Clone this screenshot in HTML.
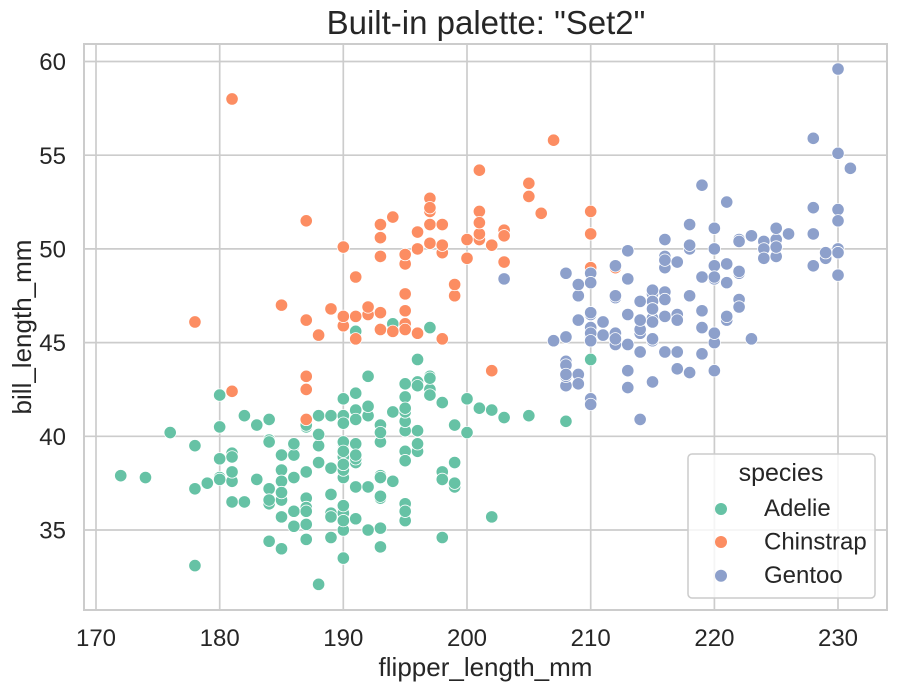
<!DOCTYPE html>
<html><head><meta charset="utf-8"><style>
html,body{margin:0;padding:0;background:#fff;}
svg{display:block;}
text{font-family:"Liberation Sans",Arial,sans-serif;fill:#262626;}
</style></head><body>
<svg width="897" height="691" viewBox="0 0 897 691" xmlns="http://www.w3.org/2000/svg">
<defs>
<g id="a"><ellipse rx="0.5337" ry="0.3522" fill="#fff"/><ellipse rx="0.4690" ry="0.3095" fill="#66c2a5"/></g>
<g id="c"><ellipse rx="0.5337" ry="0.3522" fill="#fff"/><ellipse rx="0.4690" ry="0.3095" fill="#fc8d62"/></g>
<g id="g"><ellipse rx="0.5337" ry="0.3522" fill="#fff"/><ellipse rx="0.4690" ry="0.3095" fill="#8da0cb"/></g>
</defs>
<rect x="0" y="0" width="897" height="691" fill="#fff"/>
<g stroke="#cccccc" stroke-width="1.7">
<line x1="96" y1="44" x2="96" y2="610"/>
<line x1="219.7" y1="44" x2="219.7" y2="610"/>
<line x1="343.3" y1="44" x2="343.3" y2="610"/>
<line x1="467" y1="44" x2="467" y2="610"/>
<line x1="590.7" y1="44" x2="590.7" y2="610"/>
<line x1="714.4" y1="44" x2="714.4" y2="610"/>
<line x1="838" y1="44" x2="838" y2="610"/>
<line x1="84" y1="530" x2="887" y2="530"/>
<line x1="84" y1="436.3" x2="887" y2="436.3"/>
<line x1="84" y1="342.6" x2="887" y2="342.6"/>
<line x1="84" y1="248.9" x2="887" y2="248.9"/>
<line x1="84" y1="155.2" x2="887" y2="155.2"/>
<line x1="84" y1="61.5" x2="887" y2="61.5"/>
</g>
<g transform="matrix(12.367 0 0 -18.74 -2006.39 1185.9)">
<use href="#a" x="181" y="39.1"/><use href="#a" x="186" y="39.5"/><use href="#a" x="195" y="40.3"/><use href="#a" x="193" y="36.7"/><use href="#a" x="190" y="39.3"/><use href="#a" x="181" y="38.9"/><use href="#a" x="195" y="39.2"/><use href="#a" x="193" y="34.1"/><use href="#a" x="190" y="42"/><use href="#a" x="186" y="37.8"/>
<use href="#a" x="180" y="37.8"/><use href="#a" x="182" y="41.1"/><use href="#a" x="191" y="38.6"/><use href="#a" x="198" y="34.6"/><use href="#a" x="185" y="36.6"/><use href="#a" x="195" y="38.7"/><use href="#a" x="197" y="42.5"/><use href="#a" x="184" y="34.4"/><use href="#a" x="194" y="46"/><use href="#a" x="174" y="37.8"/>
<use href="#a" x="180" y="37.7"/><use href="#a" x="189" y="35.9"/><use href="#a" x="185" y="38.2"/><use href="#a" x="180" y="38.8"/><use href="#a" x="187" y="35.3"/><use href="#a" x="183" y="40.6"/><use href="#a" x="187" y="40.5"/><use href="#a" x="172" y="37.9"/><use href="#a" x="180" y="40.5"/><use href="#a" x="178" y="39.5"/>
<use href="#a" x="178" y="37.2"/><use href="#a" x="188" y="39.5"/><use href="#a" x="184" y="40.9"/><use href="#a" x="195" y="36.4"/><use href="#a" x="196" y="39.2"/><use href="#a" x="190" y="38.8"/><use href="#a" x="180" y="42.2"/><use href="#a" x="181" y="37.6"/><use href="#a" x="184" y="39.8"/><use href="#a" x="182" y="36.5"/>
<use href="#a" x="195" y="40.8"/><use href="#a" x="186" y="36"/><use href="#a" x="196" y="44.1"/><use href="#a" x="185" y="37"/><use href="#a" x="190" y="39.6"/><use href="#a" x="182" y="41.1"/><use href="#a" x="179" y="37.5"/><use href="#a" x="190" y="36"/><use href="#a" x="191" y="42.3"/><use href="#a" x="186" y="39.6"/>
<use href="#a" x="188" y="40.1"/><use href="#a" x="190" y="35"/><use href="#a" x="200" y="42"/><use href="#a" x="187" y="34.5"/><use href="#a" x="191" y="41.4"/><use href="#a" x="186" y="39"/><use href="#a" x="193" y="40.6"/><use href="#a" x="181" y="36.5"/><use href="#a" x="194" y="37.6"/><use href="#a" x="185" y="35.7"/>
<use href="#a" x="195" y="41.3"/><use href="#a" x="185" y="37.6"/><use href="#a" x="192" y="41.1"/><use href="#a" x="184" y="36.4"/><use href="#a" x="192" y="41.6"/><use href="#a" x="195" y="35.5"/><use href="#a" x="188" y="41.1"/><use href="#a" x="190" y="35.9"/><use href="#a" x="198" y="41.8"/><use href="#a" x="190" y="33.5"/>
<use href="#a" x="190" y="39.7"/><use href="#a" x="196" y="39.6"/><use href="#a" x="197" y="45.8"/><use href="#a" x="190" y="35.5"/><use href="#a" x="195" y="42.8"/><use href="#a" x="191" y="40.9"/><use href="#a" x="184" y="37.2"/><use href="#a" x="187" y="36.2"/><use href="#a" x="195" y="42.1"/><use href="#a" x="189" y="34.6"/>
<use href="#a" x="196" y="42.9"/><use href="#a" x="187" y="36.7"/><use href="#a" x="193" y="35.1"/><use href="#a" x="191" y="37.3"/><use href="#a" x="194" y="41.3"/><use href="#a" x="190" y="36.3"/><use href="#a" x="189" y="36.9"/><use href="#a" x="189" y="38.3"/><use href="#a" x="190" y="38.9"/><use href="#a" x="202" y="35.7"/>
<use href="#a" x="205" y="41.1"/><use href="#a" x="185" y="34"/><use href="#a" x="186" y="39.6"/><use href="#a" x="187" y="36.2"/><use href="#a" x="208" y="40.8"/><use href="#a" x="190" y="38.1"/><use href="#a" x="196" y="40.3"/><use href="#a" x="178" y="33.1"/><use href="#a" x="192" y="43.2"/><use href="#a" x="192" y="35"/>
<use href="#a" x="203" y="41"/><use href="#a" x="183" y="37.7"/><use href="#a" x="190" y="37.8"/><use href="#a" x="193" y="37.9"/><use href="#a" x="184" y="39.7"/><use href="#a" x="199" y="38.6"/><use href="#a" x="190" y="38.2"/><use href="#a" x="181" y="38.1"/><use href="#a" x="197" y="43.2"/><use href="#a" x="198" y="38.1"/>
<use href="#a" x="191" y="45.6"/><use href="#a" x="193" y="39.7"/><use href="#a" x="197" y="42.2"/><use href="#a" x="191" y="39.6"/><use href="#a" x="196" y="42.7"/><use href="#a" x="188" y="38.6"/><use href="#a" x="199" y="37.3"/><use href="#a" x="189" y="35.7"/><use href="#a" x="189" y="41.1"/><use href="#a" x="187" y="36.2"/>
<use href="#a" x="198" y="37.7"/><use href="#a" x="176" y="40.2"/><use href="#a" x="202" y="41.4"/><use href="#a" x="186" y="35.2"/><use href="#a" x="199" y="40.6"/><use href="#a" x="191" y="38.8"/><use href="#a" x="195" y="41.5"/><use href="#a" x="191" y="39"/><use href="#a" x="210" y="44.1"/><use href="#a" x="190" y="38.5"/>
<use href="#a" x="197" y="43.1"/><use href="#a" x="193" y="36.8"/><use href="#a" x="199" y="37.5"/><use href="#a" x="187" y="38.1"/><use href="#a" x="190" y="41.1"/><use href="#a" x="191" y="35.6"/><use href="#a" x="200" y="40.2"/><use href="#a" x="185" y="37"/><use href="#a" x="193" y="39.7"/><use href="#a" x="193" y="40.2"/>
<use href="#a" x="187" y="40.6"/><use href="#a" x="188" y="32.1"/><use href="#a" x="190" y="40.7"/><use href="#a" x="192" y="37.3"/><use href="#a" x="185" y="39"/><use href="#a" x="190" y="39.2"/><use href="#a" x="184" y="36.6"/><use href="#a" x="195" y="36"/><use href="#a" x="193" y="37.8"/><use href="#a" x="187" y="36"/>
<use href="#a" x="201" y="41.5"/>
<use href="#c" x="192" y="46.5"/><use href="#c" x="196" y="50"/><use href="#c" x="193" y="51.3"/><use href="#c" x="188" y="45.4"/><use href="#c" x="197" y="52.7"/><use href="#c" x="198" y="45.2"/><use href="#c" x="178" y="46.1"/><use href="#c" x="197" y="51.3"/><use href="#c" x="195" y="46"/><use href="#c" x="198" y="51.3"/>
<use href="#c" x="193" y="46.6"/><use href="#c" x="194" y="51.7"/><use href="#c" x="185" y="47"/><use href="#c" x="201" y="52"/><use href="#c" x="190" y="45.9"/><use href="#c" x="201" y="50.5"/><use href="#c" x="197" y="50.3"/><use href="#c" x="181" y="58"/><use href="#c" x="190" y="46.4"/><use href="#c" x="195" y="49.2"/>
<use href="#c" x="181" y="42.4"/><use href="#c" x="191" y="48.5"/><use href="#c" x="187" y="43.2"/><use href="#c" x="193" y="50.6"/><use href="#c" x="195" y="46.7"/><use href="#c" x="197" y="52"/><use href="#c" x="200" y="50.5"/><use href="#c" x="200" y="49.5"/><use href="#c" x="191" y="46.4"/><use href="#c" x="205" y="52.8"/>
<use href="#c" x="187" y="40.9"/><use href="#c" x="201" y="54.2"/><use href="#c" x="187" y="42.5"/><use href="#c" x="203" y="51"/><use href="#c" x="195" y="49.7"/><use href="#c" x="199" y="47.5"/><use href="#c" x="195" y="47.6"/><use href="#c" x="210" y="52"/><use href="#c" x="192" y="46.9"/><use href="#c" x="205" y="53.5"/>
<use href="#c" x="210" y="49"/><use href="#c" x="187" y="46.2"/><use href="#c" x="196" y="50.9"/><use href="#c" x="196" y="45.5"/><use href="#c" x="196" y="50.9"/><use href="#c" x="201" y="50.8"/><use href="#c" x="190" y="50.1"/><use href="#c" x="212" y="49"/><use href="#c" x="187" y="51.5"/><use href="#c" x="198" y="49.8"/>
<use href="#c" x="199" y="48.1"/><use href="#c" x="201" y="51.4"/><use href="#c" x="193" y="45.7"/><use href="#c" x="203" y="50.7"/><use href="#c" x="187" y="42.5"/><use href="#c" x="197" y="52.2"/><use href="#c" x="191" y="45.2"/><use href="#c" x="203" y="49.3"/><use href="#c" x="202" y="50.2"/><use href="#c" x="194" y="45.6"/>
<use href="#c" x="206" y="51.9"/><use href="#c" x="189" y="46.8"/><use href="#c" x="195" y="45.7"/><use href="#c" x="207" y="55.8"/><use href="#c" x="202" y="43.5"/><use href="#c" x="193" y="49.6"/><use href="#c" x="210" y="50.8"/><use href="#c" x="198" y="50.2"/>
<use href="#g" x="211" y="46.1"/><use href="#g" x="230" y="50"/><use href="#g" x="210" y="48.7"/><use href="#g" x="218" y="50"/><use href="#g" x="215" y="47.6"/><use href="#g" x="210" y="46.5"/><use href="#g" x="211" y="45.4"/><use href="#g" x="219" y="46.7"/><use href="#g" x="209" y="43.3"/><use href="#g" x="215" y="46.8"/>
<use href="#g" x="214" y="40.9"/><use href="#g" x="216" y="49"/><use href="#g" x="214" y="45.5"/><use href="#g" x="213" y="48.4"/><use href="#g" x="210" y="45.8"/><use href="#g" x="217" y="49.3"/><use href="#g" x="210" y="42"/><use href="#g" x="221" y="49.2"/><use href="#g" x="209" y="46.2"/><use href="#g" x="222" y="48.7"/>
<use href="#g" x="218" y="50.2"/><use href="#g" x="215" y="45.1"/><use href="#g" x="213" y="46.5"/><use href="#g" x="215" y="46.3"/><use href="#g" x="215" y="42.9"/><use href="#g" x="215" y="46.1"/><use href="#g" x="216" y="44.5"/><use href="#g" x="215" y="47.8"/><use href="#g" x="210" y="48.2"/><use href="#g" x="220" y="50"/>
<use href="#g" x="222" y="47.3"/><use href="#g" x="209" y="42.8"/><use href="#g" x="207" y="45.1"/><use href="#g" x="230" y="59.6"/><use href="#g" x="220" y="49.1"/><use href="#g" x="220" y="48.4"/><use href="#g" x="213" y="42.6"/><use href="#g" x="219" y="44.4"/><use href="#g" x="208" y="44"/><use href="#g" x="208" y="48.7"/>
<use href="#g" x="208" y="42.7"/><use href="#g" x="225" y="49.6"/><use href="#g" x="210" y="45.3"/><use href="#g" x="216" y="49.6"/><use href="#g" x="222" y="50.5"/><use href="#g" x="217" y="43.6"/><use href="#g" x="210" y="45.5"/><use href="#g" x="225" y="50.5"/><use href="#g" x="213" y="44.9"/><use href="#g" x="215" y="45.2"/>
<use href="#g" x="210" y="46.6"/><use href="#g" x="220" y="48.5"/><use href="#g" x="210" y="45.1"/><use href="#g" x="225" y="50.1"/><use href="#g" x="217" y="46.5"/><use href="#g" x="220" y="45"/><use href="#g" x="208" y="43.8"/><use href="#g" x="220" y="45.5"/><use href="#g" x="208" y="43.2"/><use href="#g" x="224" y="50.4"/>
<use href="#g" x="208" y="45.3"/><use href="#g" x="221" y="46.2"/><use href="#g" x="214" y="45.7"/><use href="#g" x="231" y="54.3"/><use href="#g" x="219" y="45.8"/><use href="#g" x="230" y="49.8"/><use href="#g" x="214" y="46.2"/><use href="#g" x="229" y="49.5"/><use href="#g" x="220" y="43.5"/><use href="#g" x="223" y="50.7"/>
<use href="#g" x="216" y="47.7"/><use href="#g" x="221" y="46.4"/><use href="#g" x="221" y="48.2"/><use href="#g" x="217" y="46.5"/><use href="#g" x="216" y="46.4"/><use href="#g" x="230" y="48.6"/><use href="#g" x="209" y="47.5"/><use href="#g" x="220" y="51.1"/><use href="#g" x="215" y="45.2"/><use href="#g" x="223" y="45.2"/>
<use href="#g" x="212" y="49.1"/><use href="#g" x="221" y="52.5"/><use href="#g" x="212" y="47.4"/><use href="#g" x="224" y="50"/><use href="#g" x="212" y="44.9"/><use href="#g" x="228" y="50.8"/><use href="#g" x="218" y="43.4"/><use href="#g" x="218" y="51.3"/><use href="#g" x="212" y="47.5"/><use href="#g" x="230" y="52.1"/>
<use href="#g" x="218" y="47.5"/><use href="#g" x="228" y="52.2"/><use href="#g" x="212" y="45.5"/><use href="#g" x="224" y="49.5"/><use href="#g" x="214" y="44.5"/><use href="#g" x="226" y="50.8"/><use href="#g" x="216" y="49.4"/><use href="#g" x="222" y="46.9"/><use href="#g" x="203" y="48.4"/><use href="#g" x="225" y="51.1"/>
<use href="#g" x="219" y="48.5"/><use href="#g" x="228" y="55.9"/><use href="#g" x="215" y="47.2"/><use href="#g" x="228" y="49.1"/><use href="#g" x="216" y="47.3"/><use href="#g" x="215" y="46.8"/><use href="#g" x="210" y="41.7"/><use href="#g" x="219" y="53.4"/><use href="#g" x="208" y="43.3"/><use href="#g" x="209" y="48.1"/>
<use href="#g" x="216" y="50.5"/><use href="#g" x="229" y="49.8"/><use href="#g" x="213" y="43.5"/><use href="#g" x="230" y="51.5"/><use href="#g" x="217" y="46.2"/><use href="#g" x="230" y="55.1"/><use href="#g" x="217" y="44.5"/><use href="#g" x="222" y="48.8"/><use href="#g" x="214" y="47.2"/><use href="#g" x="215" y="46.8"/>
<use href="#g" x="222" y="50.4"/><use href="#g" x="212" y="45.2"/><use href="#g" x="213" y="49.9"/>
</g>
<rect x="84" y="44" width="803" height="566" fill="none" stroke="#cccccc" stroke-width="2"/>
<g font-size="24" text-anchor="end">
<text x="66" y="538.6">35</text>
<text x="66" y="444.9">40</text>
<text x="66" y="351.2">45</text>
<text x="66" y="257.5">50</text>
<text x="66" y="163.8">55</text>
<text x="66" y="70.1">60</text>
</g>
<g font-size="24" text-anchor="middle">
<text x="96" y="646">170</text>
<text x="219.7" y="646">180</text>
<text x="343.3" y="646">190</text>
<text x="467" y="646">200</text>
<text x="590.7" y="646">210</text>
<text x="714.4" y="646">220</text>
<text x="838" y="646">230</text>
</g>
<text x="485.5" y="676" font-size="26" text-anchor="middle">flipper_length_mm</text>
<text transform="translate(31,327) rotate(-90)" font-size="26" text-anchor="middle">bill_length_mm</text>
<text x="486" y="34" font-size="33" text-anchor="middle">Built-in palette: "Set2"</text>
<rect x="688" y="454" width="187" height="144" rx="4" ry="4" fill="#fff" fill-opacity="0.8" stroke="#cccccc" stroke-width="1.5"/>
<text x="781" y="481" font-size="25" text-anchor="middle">species</text>
<circle cx="721" cy="509" r="6" fill="#66c2a5"/>
<circle cx="721" cy="542" r="6" fill="#fc8d62"/>
<circle cx="721" cy="575.7" r="6" fill="#8da0cb"/>
<g font-size="24">
<text x="764" y="516">Adelie</text>
<text x="764" y="549.5">Chinstrap</text>
<text x="764" y="583">Gentoo</text>
</g>
</svg>
</body></html>
